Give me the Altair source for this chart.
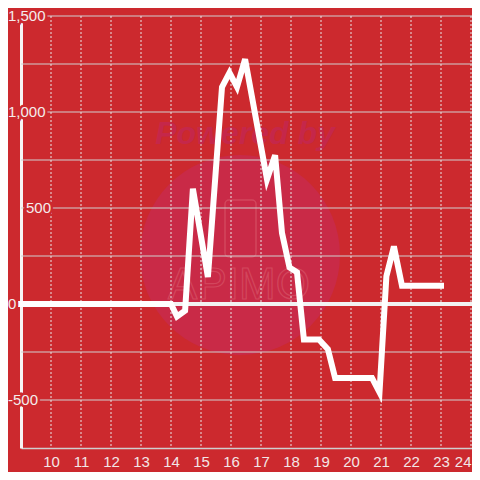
import altair as alt
import pandas as pd

# ---- data ----
hours = [9.0, 14.0, 14.2, 14.47, 14.73, 15.23, 15.7, 15.95, 16.2, 16.47,
         17.2, 17.47, 17.7, 17.95, 18.2, 18.43, 18.93, 19.23, 19.47, 20.7,
         20.95, 21.18, 21.43, 21.7, 23.0]
values = [0, 0, -65, -35, 600, 140, 1130, 1205, 1130, 1275,
          650, 775, 370, 190, 165, -185, -185, -235, -385, -385,
          -460, 145, 300, 95, 95]
y_label_values = [1500, 1000, 500, 0, -500]
y_label_texts = ["1,500", "1,000", "500", "0", "-500"]
y_grid_values = [1500, 1250, 1000, 750, 500, 250, 0, -250, -500]
x_tick_values = list(range(10, 25))

# ---- styling ----
BG = "#cc292e"
W, H = 451, 432
FONT = "Liberation Sans"

df = pd.DataFrame({"hour": hours, "value": values})
one = pd.DataFrame({"k": [0]})

xscale = alt.Scale(domain=[9, 9 + W / 30], nice=False, zero=False)
yscale = alt.Scale(domain=[-750, 1500], nice=False, zero=False)

X_AX = alt.Axis(values=x_tick_values, format="d", grid=False, ticks=False,
                domainColor="#cfcfcf", domainWidth=1.5, labelColor="#f2e6e6",
                labelFont=FONT, labelFontSize=15, labelPadding=6, title=None)
Y_AX = alt.Axis(grid=False, ticks=False, labels=False, domainColor="#f7f4f4",
                domainWidth=3, title=None)

# watermark
circle = alt.Chart(one).mark_point(shape="circle", filled=True, size=40000,
                                   color="#c92a47", opacity=1).encode(
    x=alt.value(219), y=alt.value(239))
powered = alt.Chart(one).mark_text(text="Powered by", font=FONT, fontSize=32,
                                   fontWeight="bold", fontStyle="italic",
                                   color="#c5274a").encode(
    x=alt.value(224), y=alt.value(118))
apimo = alt.Chart(one).mark_text(text="APIMO", font=FONT, fontSize=44,
                                 fill="transparent", stroke="#d95a6c",
                                 strokeWidth=1.2, opacity=0.6).encode(
    x=alt.value(218), y=alt.value(270))
phone = alt.Chart(one).mark_rect(fill="transparent", stroke="#d95a6c",
                                 strokeWidth=1.5, cornerRadius=4, opacity=0.6).encode(
    x=alt.value(204), x2=alt.value(235), y=alt.value(184), y2=alt.value(241))

# grid
ygrid = alt.Chart(pd.DataFrame({"v": y_grid_values})).mark_rule(
    color="#d0d0d0", strokeWidth=1).encode(
    y=alt.Y("v:Q", scale=yscale, axis=Y_AX))
xgrid = alt.Chart(pd.DataFrame({"h": x_tick_values})).mark_rule(
    color="#e8e8e8", strokeWidth=1, strokeDash=[2, 2]).encode(
    x=alt.X("h:Q", scale=xscale, axis=X_AX))
zero = alt.Chart(pd.DataFrame({"v": [0]})).mark_rule(
    color="#f2f2f2", strokeWidth=4).encode(
    y=alt.Y("v:Q", scale=yscale, axis=Y_AX), x=alt.value(-4), x2=alt.value(W))

line = alt.Chart(df).mark_line(color="white", strokeWidth=6,
                               strokeCap="square").encode(
    x=alt.X("hour:Q", scale=xscale, axis=X_AX),
    y=alt.Y("value:Q", scale=yscale, axis=Y_AX))

# y labels with a halo that hides the lines behind them
label_x = {"1,500": -13, "1,000": -13, "500": 5, "0": -13, "-500": -13}
lab_df = pd.DataFrame({"v": y_label_values, "t": y_label_texts})
halos, labels = [], []
for t in y_label_texts:
    sub = alt.Chart(lab_df).transform_filter(alt.datum.t == t)
    halos.append(sub.mark_text(align="left", baseline="middle", font=FONT,
                               fontSize=15, color=BG, stroke=BG,
                               strokeWidth=5).encode(
        x=alt.value(label_x[t]), y=alt.Y("v:Q", scale=yscale, axis=Y_AX),
        text="t:N"))
    labels.append(sub.mark_text(align="left", baseline="middle", font=FONT,
                                fontSize=15, color="#f4ecec").encode(
        x=alt.value(label_x[t]), y=alt.Y("v:Q", scale=yscale, axis=Y_AX),
        text="t:N"))

chart = alt.layer(circle, powered, apimo, phone, ygrid, xgrid, zero, line,
                  *halos, *labels).properties(
    width=W, height=H,
    autosize=alt.AutoSizeParams(type="none"),
    padding={"left": 13, "top": 8, "right": 0, "bottom": 24},
).configure(background=BG).configure_view(strokeWidth=0)

chart.save("out.html", embed_options={"renderer": "svg", "actions": False})
